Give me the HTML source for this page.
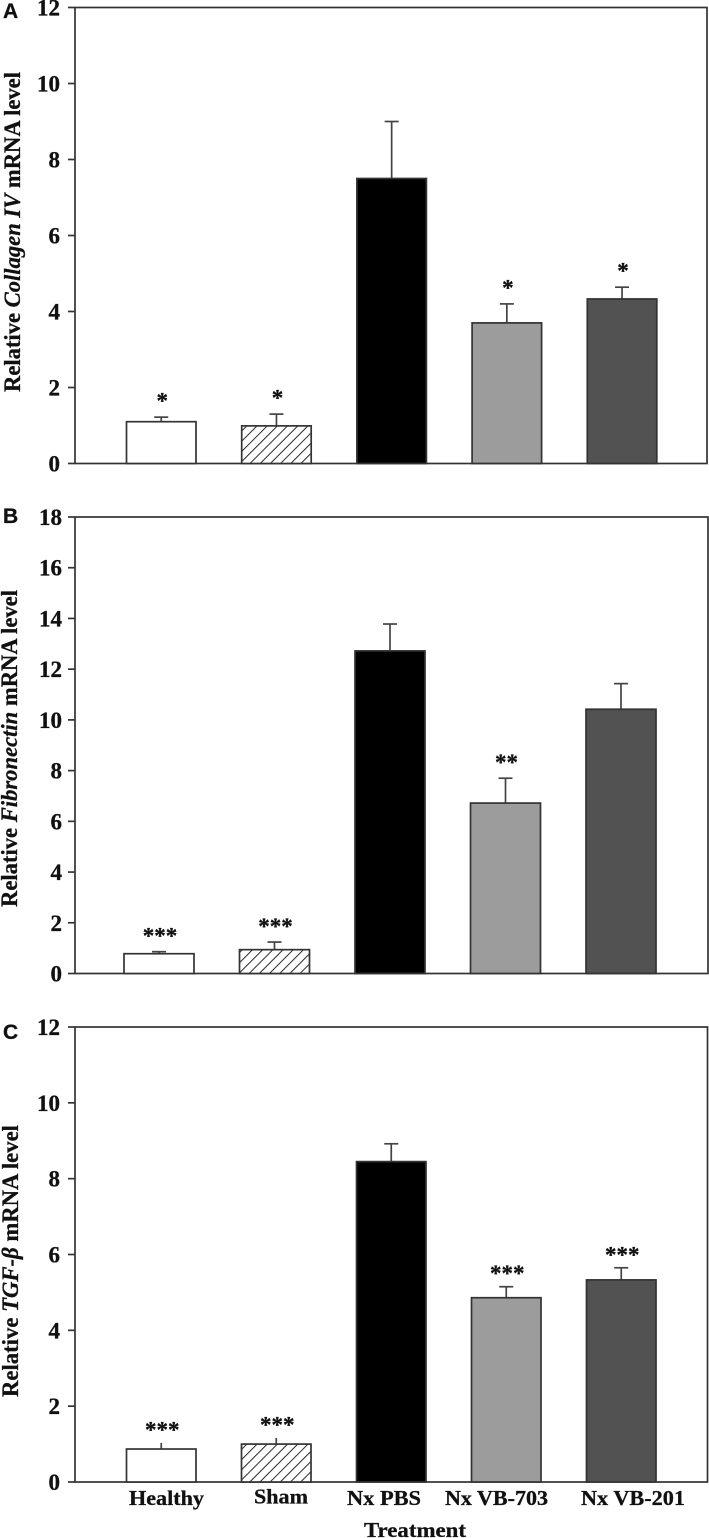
<!DOCTYPE html>
<html lang="en">
<head>
<meta charset="utf-8">
<title>Relative mRNA levels by treatment</title>
<style>
html,body{margin:0;padding:0;background:#fff;}
svg{display:block;}
text{font-family:"Liberation Serif",serif;font-weight:bold;fill:#111;stroke:#111;stroke-width:.3px;}
.letter{font-family:"Liberation Sans",sans-serif;font-size:21px;}
</style>
</head>
<body>
<svg id="figure" width="709" height="1538" viewBox="0 0 709 1538" xmlns="http://www.w3.org/2000/svg">
<defs>
<pattern id="hatch" patternUnits="userSpaceOnUse" width="10" height="10" patternTransform="rotate(45) scale(.72)">
<rect width="10" height="10" fill="#fff"/>
<line x1="0" y1="0" x2="0" y2="10" stroke="#2a2a2a" stroke-width="2.8"/>
</pattern>
</defs>
<rect width="709" height="1538" fill="#fff"/>
<g id="chart"></g>
<text class="letter" x="3" y="18">A</text>
<text class="letter" x="3" y="523">B</text>
<text class="letter" x="3" y="1039">C</text>
<text transform="translate(20,392) rotate(-90)" font-size="23" textLength="320" lengthAdjust="spacingAndGlyphs">Relative <tspan font-style="italic">Collagen IV</tspan> mRNA level</text>
<text transform="translate(17,907) rotate(-90)" font-size="23" textLength="317" lengthAdjust="spacingAndGlyphs">Relative <tspan font-style="italic">Fibronectin</tspan> mRNA level</text>
<text transform="translate(18,1397) rotate(-90)" font-size="23" textLength="272" lengthAdjust="spacingAndGlyphs">Relative <tspan font-style="italic">TGF-β</tspan> mRNA level</text>
<text x="129" y="1505" font-size="21.5" textLength="75" lengthAdjust="spacingAndGlyphs">Healthy</text>
<text x="254" y="1503.5" font-size="21.5" textLength="54" lengthAdjust="spacingAndGlyphs">Sham</text>
<text x="347" y="1505" font-size="21.5" textLength="74" lengthAdjust="spacingAndGlyphs">Nx PBS</text>
<text x="445" y="1505" font-size="21.5" textLength="103" lengthAdjust="spacingAndGlyphs">Nx VB-703</text>
<text x="581" y="1505" font-size="21.5" textLength="104" lengthAdjust="spacingAndGlyphs">Nx VB-201</text>
<text x="364" y="1537" font-size="21.5" textLength="102" lengthAdjust="spacingAndGlyphs">Treatment</text>
</svg>
<script>
// Data
const categories = ['healthy', 'sham', 'nx-pbs', 'nx-vb-703', 'nx-vb-201'];

const ticksA = [0, 2, 4, 6, 8, 10, 12];
const valuesA = [1.1, 0.99, 7.5, 3.7, 4.33];
const errorTopsA = [1.22, 1.3, 9.0, 4.2, 4.64];
const marksA = ['*', '*', '', '*', '*'];

const ticksB = [0, 2, 4, 6, 8, 10, 12, 14, 16, 18];
const valuesB = [0.78, 0.94, 12.72, 6.72, 10.42];
const errorTopsB = [0.86, 1.24, 13.78, 7.7, 11.43];
const marksB = ['***', '***', '', '**', ''];

const ticksC = [0, 2, 4, 6, 8, 10, 12];
const valuesC = [0.87, 1.0, 8.45, 4.86, 5.33];
const errorTopsC = [1.03, 1.16, 8.92, 5.15, 5.65];
const marksC = ['***', '***', '', '***', '***'];

const NS = 'http://www.w3.org/2000/svg';
const root = document.getElementById('chart');
const fills = ['#fff', 'url(#hatch)', '#000', '#9c9c9c', '#525252'];

function make(parent, tag, attrs, text) {
  const el = document.createElementNS(NS, tag);
  for (const k in attrs) el.setAttribute(k, attrs[k]);
  if (text !== undefined) el.textContent = text;
  parent.appendChild(el);
  return el;
}

function drawPanel(id, cfg, ticks, values, errorTops, marks) {
  const y = v => cfg.bottom - (v / ticks[ticks.length - 1]) * (cfg.bottom - cfg.top);
  const barLeft = i => cfg.firstBar + i * cfg.step;
  const axisColor = '#333';

  const g = make(root, 'g', {});
  
  

  const frame = make(g, 'rect', {x: cfg.left, y: cfg.top, width: cfg.right - cfg.left, height: cfg.bottom - cfg.top, fill: 'none', stroke: axisColor, 'stroke-width': 1.7});
  
  

  ticks.forEach(t => {
    const mark = make(g, 'line', {x1: cfg.left - 7, x2: cfg.left, y1: y(t), y2: y(t), stroke: axisColor, 'stroke-width': 1.7});
    
    
    const label = make(g, 'text', {x: cfg.labelX, y: y(t) + 8, 'text-anchor': 'end', 'font-size': 23}, String(t));
    
    
  });

  categories.forEach((c, i) => {
    const x = barLeft(i);
    const cx = x + cfg.barWidth / 2;
    const err = make(g, 'line', {x1: cx, x2: cx, y1: y(values[i]), y2: y(errorTops[i]), stroke: '#444', 'stroke-width': 1.7});
    
    
    if (!(id === 'c' && i < 2)) {
      const cap = make(g, 'line', {x1: cx - 7, x2: cx + 7, y1: y(errorTops[i]), y2: y(errorTops[i]), stroke: '#444', 'stroke-width': 1.7});
      
      
    }
    const bar = make(g, 'rect', {x: x, y: y(values[i]), width: cfg.barWidth, height: cfg.bottom - y(values[i]), fill: fills[i], stroke: '#333', 'stroke-width': 1.7});
    
    
    if (marks[i]) {
      const star = make(g, 'text', {x: cx + 1, y: y(errorTops[i]) - cfg.starGap + 10.5, 'text-anchor': 'middle', 'font-size': 23}, marks[i]);
      
      
    }
  });
}

drawPanel('a', {top: 7.5, bottom: 463.5, left: 75, right: 707, firstBar: 126.5, step: 115.2, barWidth: 69.5, labelX: 60, starGap: 19}, ticksA, valuesA, errorTopsA, marksA);
drawPanel('b', {top: 517, bottom: 973.5, left: 75, right: 708, firstBar: 124, step: 115.5, barWidth: 70, labelX: 62, starGap: 18.5}, ticksB, valuesB, errorTopsB, marksB);
drawPanel('c', {top: 1027, bottom: 1482, left: 75, right: 707.5, firstBar: 126.5, step: 115, barWidth: 69.5, labelX: 60, starGap: 16}, ticksC, valuesC, errorTopsC, marksC);
</script>
</body>
</html>
